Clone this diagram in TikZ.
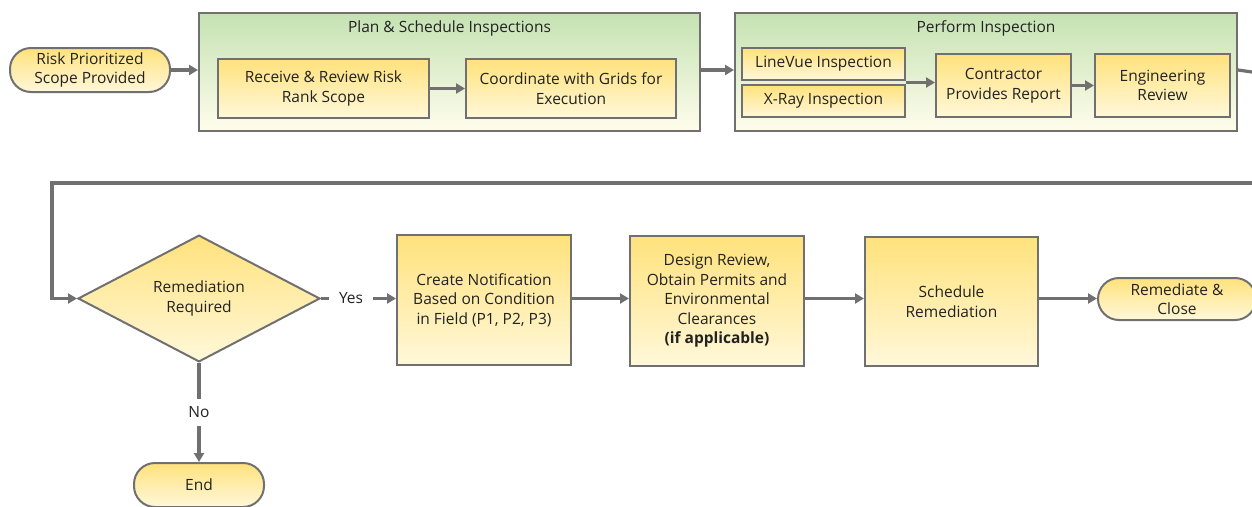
\documentclass[tikz,border=0pt]{standalone}
\usepackage{fontspec}
\setmainfont{Open Sans}
\usetikzlibrary{arrows.meta, positioning, calc, shapes.geometric}
\definecolor{boxtop}{HTML}{FFE27C}
\definecolor{boxbot}{HTML}{FFF8DA}
\definecolor{grptop}{HTML}{C5E2B3}
\definecolor{grpbot}{HTML}{FFFDEC}
\definecolor{edge}{HTML}{707070}
\definecolor{txt}{HTML}{222222}

\begin{document}
\begin{tikzpicture}[x=1pt, y=-1pt,
    task/.style={draw=edge, line width=2pt, rectangle, top color=boxtop, bottom color=boxbot, align=center, font=\fontsize{15.5}{19.5}\selectfont, text=txt, inner sep=2pt},
    term/.style={task, rounded corners=21pt, minimum height=44pt},
    grp/.style={draw=edge, line width=2pt, rectangle, top color=grptop, bottom color=grpbot},
    ttl/.style={font=\fontsize{15.5}{19.5}\selectfont, text=txt},
    arr/.style={-{Triangle[length=9pt, width=10pt]}, line width=3.2pt, edge},
    lnk/.style={line width=3.2pt, edge}
]
\useasboundingbox (0,0) rectangle (1252,506);
\node[term, minimum width=160pt] (start) at (90,70) {Risk Prioritized\\Scope Provided};
\node[grp, minimum width=501pt, minimum height=118pt] (plan) at (449.5,72) {};
\node[ttl] (plantitle) at (449.5,28) {Plan \& Schedule Inspections};
\node[task, minimum width=211pt, minimum height=59pt] (receive) at (323.5,88.5) {Receive \& Review Risk\\Rank Scope};
\node[task, minimum width=210pt, minimum height=59pt] (coord) at (571,88.5) {Coordinate with Grids for\\Execution};
\node[grp, minimum width=502pt, minimum height=118pt] (perform) at (986,72) {};
\node[ttl] (perftitle) at (986,28) {Perform Inspection};
\node[task, minimum width=163pt, minimum height=32pt] (linevue) at (823.5,64) {LineVue Inspection};
\node[task, minimum width=163pt, minimum height=32pt] (xray) at (823.5,101) {X-Ray Inspection};
\node[task, minimum width=135pt, minimum height=63pt] (contractor) at (1003.5,85.5) {Contractor\\Provides Report};
\node[task, minimum width=135pt, minimum height=63pt] (engrev) at (1162.5,85.5) {Engineering\\Review};
\coordinate (split) at ($(linevue.south east)!0.5!(xray.north east)$);
\coordinate (exit) at (1252,72);
\coordinate (reentry) at (1252,183);
\coordinate (turn) at (52,183);
\node[task, diamond, minimum width=242pt, minimum height=125pt, inner sep=0pt] (remreq) at (199,298.5) {Remediation\\Required};
\node[task, minimum width=174pt, minimum height=130pt] (notif) at (484,300) {Create Notification\\Based on Condition\\in Field (P1, P2, P3)};
\node[task, minimum width=174pt, minimum height=130pt] (design) at (717,301) {Design Review,\\Obtain Permits and\\Environmental\\Clearances\\\textbf{(if applicable)}};
\node[task, minimum width=173pt, minimum height=129pt] (sched) at (951.5,301.5) {Schedule\\Remediation};
\node[term, minimum width=158pt, minimum height=42pt] (close) at (1177,299) {Remediate \&\\Close};
\node[term, minimum width=130pt] (end) at (199,485) {End};
% top row
\draw[arr] (start.east) -- (start.east -| plan.west);
\draw[arr] (receive) -- (coord);
\draw[arr] (start.east -| plan.east) -- (start.east -| perform.west);
\draw[arr] (split) -- (split -| contractor.west);
\draw[arr] (contractor) -- (engrev);
\draw[lnk] (start.east -| perform.east) -- (exit);
% bottom row
\draw[arr] (reentry) -- (turn) |- (remreq.west);
\draw[arr] (remreq.east) -- node[ttl, fill=white, pos=0.4, inner xsep=10pt]{Yes} (remreq.east -| notif.west);
\draw[arr] (remreq.east -| notif.east) -- (remreq.east -| design.west);
\draw[arr] (remreq.east -| design.east) -- (remreq.east -| sched.west);
\draw[arr] (remreq.east -| sched.east) -- (remreq.east -| close.west);
\draw[arr] (remreq.south) -- node[ttl, fill=white, inner ysep=8pt]{No} (end.north);
\end{tikzpicture}
\end{document}
